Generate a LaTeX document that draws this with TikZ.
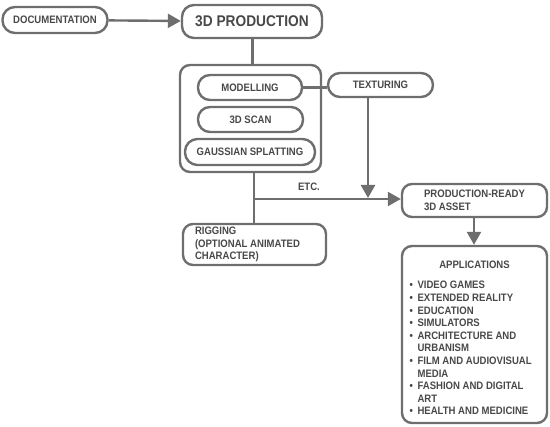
\documentclass[tikz,border=0pt]{standalone}
\usepackage{fontspec}
\setmainfont{Liberation Sans}[FakeStretch=0.885]
\usetikzlibrary{arrows.meta,calc}
\definecolor{lgray}{HTML}{6E6E6E}
\definecolor{tgray}{HTML}{484848}
\tikzset{
  box/.style={draw=lgray, line width=2.4pt, rounded corners=#1, inner sep=0pt, text=tgray, font=\bfseries\fontsize{10.8}{12.6}\selectfont},
  box/.default=12pt,
  conn/.style={draw=lgray, line width=2.4pt},
  arr/.style={conn, -{Triangle[length=13pt,width=14pt]}},
  lbl/.style={text=tgray, inner sep=0pt, font=\bfseries\fontsize{10.8}{12.6}\selectfont}
}
\begin{document}
\begin{tikzpicture}[x=1pt,y=-1pt]
\useasboundingbox (0,0) rectangle (550,427);
\node[box=12.5pt, minimum width=105pt, minimum height=26pt] (doc) at (55,20) {DOCUMENTATION};
\node[box=12pt, minimum width=140pt, minimum height=33pt, font=\bfseries\fontsize{15.5}{17}\selectfont] (prod) at (252,21.5) {3D PRODUCTION};
\node[box=10pt, minimum width=141pt, minimum height=107pt] (cont) at (250.5,118.5) {};
\node[box=12pt, minimum width=104pt, minimum height=25pt] (mod) at (250,87.5) {MODELLING};
\node[box=12pt, minimum width=105pt, minimum height=25pt] (scan) at (250.5,119.5) {3D SCAN};
\node[box=12.5pt, minimum width=130pt, minimum height=26pt] (gauss) at (250,152) {GAUSSIAN SPLATTING};
\node[box=12pt, minimum width=105pt, minimum height=24pt] (tex) at (380.5,85) {TEXTURING};
\node[box=10pt, minimum width=145pt, minimum height=33pt, align=left] (pra) at (474.5,200.5) {PRODUCTION-READY\\3D ASSET};
\node[box=10pt, minimum height=41pt, inner xsep=12pt, text width=119pt, align=flush left] (rig) at (254.5,244.5) {RIGGING\\(OPTIONAL ANIMATED\\CHARACTER)};
\node[box=10pt, minimum width=145pt, minimum height=177pt] (app) at (474.5,334.5) {};
\node[lbl] (apph) at (474.5,265) {APPLICATIONS};
\node[lbl, anchor=base west] (appl) at (409.5,289) {\begin{tabular}[t]{@{}l@{\hspace{4.5pt}}l@{}}
\textbullet & VIDEO GAMES\\
\textbullet & EXTENDED REALITY\\
\textbullet & EDUCATION\\
\textbullet & SIMULATORS\\
\textbullet & ARCHITECTURE AND\\
 & URBANISM\\
\textbullet & FILM AND AUDIOVISUAL\\
 & MEDIA\\
\textbullet & FASHION AND DIGITAL\\
 & ART\\
\textbullet & HEALTH AND MEDICINE
\end{tabular}};
\node[lbl] (etc) at (309,187) {ETC.};
\coordinate (c1) at (254,199);
\coordinate (t1) at (368,199);
\draw[arr] (doc) -- (prod);
\draw[conn] (prod.south -| 252.5,0) -- (cont.north -| 252.5,0);
\draw[conn] (mod) -- (mod -| tex.west);
\draw[arr] (tex.south -| t1) -- ($(t1)+(0,-1)$);
\draw[conn] (cont.south -| c1) -- (rig.north -| c1);
\draw[arr] (c1) -- (c1 -| pra.west);
\draw[arr] (pra.south -| 474,0) -- (app.north -| 474,0);
\end{tikzpicture}
\end{document}
